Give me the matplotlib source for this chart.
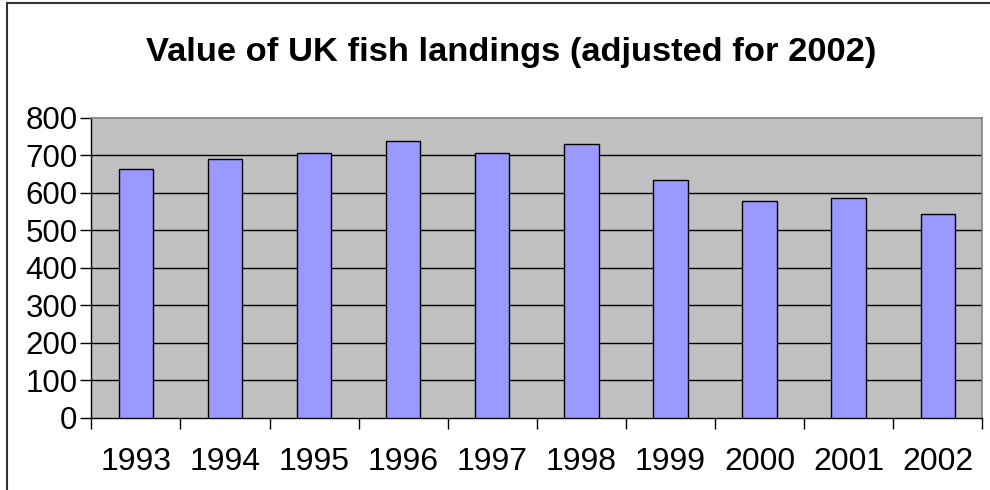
import numpy as np
import matplotlib.pyplot as plt
from matplotlib.patches import Rectangle

# Data
years = ['1993', '1994', '1995', '1996', '1997', '1998', '1999', '2000', '2001', '2002']
values = [664, 689, 707, 739, 707, 731, 633, 579, 587, 544]
y_ticks = [0, 100, 200, 300, 400, 500, 600, 700, 800]

plt.rcParams['font.family'] = ['Liberation Sans', 'DejaVu Sans']

fig = plt.figure(figsize=(9.9, 4.9), dpi=100)
ax = fig.add_axes([91.3 / 990, 1 - 417.7 / 490, 891 / 990, 300 / 490])

# Outer chart frame (runs off the right and bottom edges)
fig.patches.append(Rectangle((7 / 990, -0.2), 1.5, 1.2 - 3 / 490,
                             transform=fig.transFigure, fill=False,
                             edgecolor='#333333', linewidth=1.5))

x = np.arange(len(years))
ax.set_facecolor('#C0C0C0')
ax.bar(x, values, width=0.385, color='#9999FF', edgecolor='black',
       linewidth=1.0, zorder=3)

ax.set_xlim(-0.5, len(years) - 0.5)
ax.set_ylim(0, 800)
ax.set_yticks(y_ticks)
ax.set_yticklabels([str(v) for v in y_ticks], fontsize=22.5)
for v in y_ticks[1:-1]:
    ax.axhline(v, color='black', linewidth=1.0, zorder=1)

# ticks sit between categories, labels in the middle
ax.set_xticks(np.arange(len(years) + 1) - 0.5)
ax.set_xticklabels([])
ax.set_xticks(x, minor=True)
ax.set_xticklabels(years, minor=True, fontsize=23)
ax.tick_params(axis='x', which='minor', length=0, pad=21)
ax.tick_params(axis='x', which='major', length=8, width=1, direction='out')
ax.tick_params(axis='y', length=8, width=1, direction='out', pad=2)

for side in ['top', 'right']:
    ax.spines[side].set_color('#808080')
    ax.spines[side].set_linewidth(1.2)
for side in ['left', 'bottom']:
    ax.spines[side].set_color('black')
    ax.spines[side].set_linewidth(1.0)

fig.text(511 / 990, 1 - 53 / 490, 'Value of UK fish landings (adjusted for 2002)',
         ha='center', va='center', fontsize=24.8, fontweight='bold')

fig.savefig('out.png', dpi=100)
